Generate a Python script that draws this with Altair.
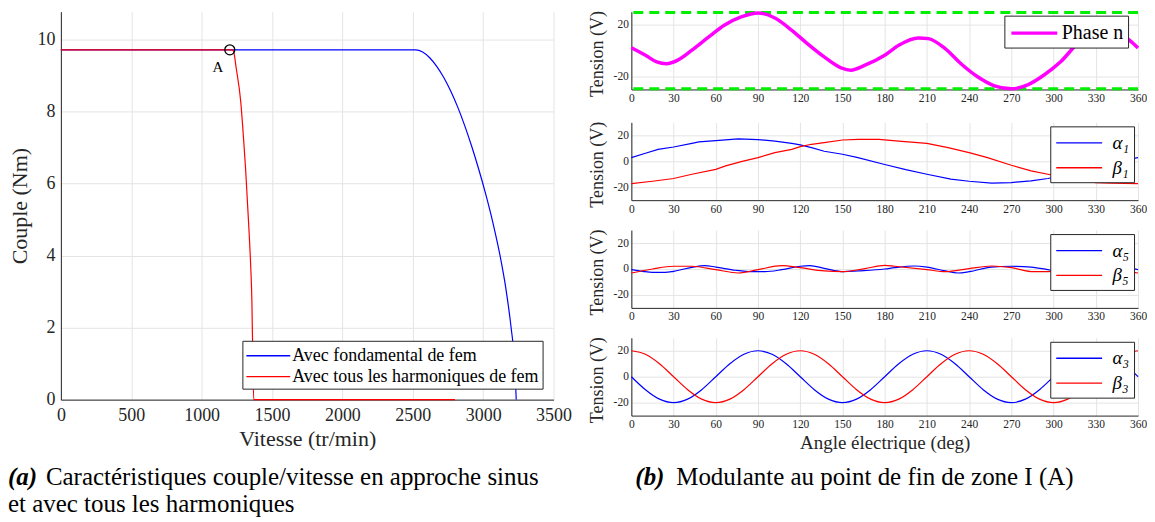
import altair as alt
import pandas as pd

FONT = "Liberation Serif"
AXC = "#262626"
GRID = "#e4e4e4"
LINE_SYMBOL = "M-2,0L2,0"

# ---------------- (a) torque / speed ----------------
series_a = ["Avec fondamental de fem", "Avec tous les harmoniques de fem"]
colors_a = ["#0000ff", "#ff0000"]
speed_fund = [0, 2520, 2570, 2620, 2670, 2720, 2770, 2820, 2870, 2920, 2970, 3020, 3070, 3120, 3160, 3200, 3220, 3235]
torque_fund = [9.72, 9.72, 9.66, 9.50, 9.26, 8.95, 8.57, 8.12, 7.60, 7.02, 6.38, 5.68, 4.90, 4.00, 3.12, 1.95, 1.20, 0.0]
speed_harm = [0, 1215, 1225, 1246, 1278, 1296, 1312, 1325, 1338, 1349, 1357, 1362, 1370, 2800]
torque_harm = [9.72, 9.72, 9.70, 9.20, 8.27, 7.35, 6.43, 5.51, 4.59, 3.67, 2.75, 1.53, 0.0, 0.0]
pointA_speed = [1200]
pointA_torque = [9.72]
pointA_label = ["A"]
speed_ticks = [0, 500, 1000, 1500, 2000, 2500, 3000, 3500]
torque_ticks = [0, 2, 4, 6, 8, 10]
caption_a_tag = ["(a)"]
caption_a_line1 = ["Caractéristiques couple/vitesse en approche sinus"]
caption_a_line2 = ["et avec tous les harmoniques"]

# ---------------- (b) modulating waveforms ----------------
angle_ticks = [0, 30, 60, 90, 120, 150, 180, 210, 240, 270, 300, 330, 360]
tension_ticks = [-20, 0, 20]
green_limits = [29.4, -29.4]

name_n = ["Phase n"]
ang_n = [0, 10, 18, 25, 33, 43, 55, 66, 78, 90, 102, 114, 125, 137, 149, 156, 166, 180,
         190, 204, 211, 223, 234, 246, 258, 270, 282, 293, 305, 317, 325, 333, 340, 346, 351, 356, 360]
v_n = [2.2, -3.6, -8.8, -10.2, -7.4, 0.3, 10.5, 19.5, 25.9, 29.0, 25.1, 15.6, 5.4, -4.9, -13.3, -15.1, -11.3, -3.6,
       4.1, 9.7, 9.2, 1.5, -10.0, -20.2, -27.2, -29.5, -26.2, -19.0, -8.7, 5.4, 11.5, 14.5, 15.0, 13.5, 10.5, 6.0, 2.0]

names_1 = ["α₁", "β₁"]
ang_a1 = [0, 10, 19, 30, 43, 48, 60, 76, 90, 102, 114, 120, 128, 137, 150, 161, 180, 195, 210, 227, 240, 256,
          270, 284, 296, 315, 330, 345, 352, 360]
v_a1 = [2.8, 6.2, 9.2, 11.0, 13.8, 14.9, 15.9, 17.2, 16.7, 15.6, 13.8, 12.6, 10.5, 7.7, 5.4, 2.8, -2.5, -6.5, -10.0,
        -13.8, -15.4, -16.9, -16.4, -15.1, -13.3, -9.4, -5.3, -0.9, 1.2, 2.8]
ang_b1 = [0, 15, 30, 43, 60, 67, 78, 90, 102, 114, 120, 128, 137, 150, 161, 176, 190, 210, 225, 240, 253, 270,
          284, 296, 305, 317, 330, 341, 360]
v_b1 = [-17.2, -15.4, -13.3, -10.0, -6.2, -3.6, -0.3, 2.8, 6.7, 9.2, 11.3, 13.1, 14.4, 16.4, 16.9, 16.9, 15.5, 13.8,
        10.5, 6.7, 2.8, -3.1, -7.4, -10.0, -12.0, -14.4, -16.4, -16.9, -17.2]

names_5 = ["α₅", "β₅"]
ang_a5 = [0, 8, 15, 24, 30, 43, 52, 60, 74, 86, 95, 107, 120, 127, 137, 151, 161, 180, 187, 201, 210, 223, 232,
          240, 256, 270, 284, 296, 305, 315, 325, 335, 345, 352, 360]
v_a5 = [-0.5, -1.8, -2.6, -2.6, -1.8, 1.3, 2.6, 1.5, -1.0, -2.1, -2.1, -0.5, 2.1, 2.6, 0.5, -2.1, -1.5, 0.0, 1.0,
        2.3, 1.5, -1.5, -3.1, -2.1, 1.5, 2.1, 1.5, -0.5, -2.3, -1.5, 0.5, 2.2, 2.4, 1.2, -0.5]
ang_b5 = [0, 15, 30, 43, 60, 76, 90, 107, 120, 137, 150, 166, 180, 187, 210, 223, 240, 256, 270, 286, 296, 305,
          315, 327, 340, 350, 360]
v_b5 = [-3.1, 0.0, 2.1, 2.1, -0.5, -3.1, -0.5, 2.6, 1.0, -1.5, -2.1, 0.3, 2.8, 2.1, -0.5, -2.1, 0.3, 2.3, 1.0,
        -2.1, -2.1, -0.5, 1.5, 2.5, 1.0, -1.5, -3.1]

names_3 = ["α₃", "β₃"]
ang_3 = [0, 10, 20, 30, 40, 50, 60, 70, 80, 90, 100, 110, 120, 130, 140, 150, 160, 170, 180, 190, 200, 210,
         220, 230, 240, 250, 260, 270, 280, 290, 300, 310, 320, 330, 340, 350, 360]
v_a3 = [0, -10, -17.3, -20, -17.3, -10, 0, 10, 17.3, 20, 17.3, 10, 0, -10, -17.3, -20, -17.3, -10, 0, 10, 17.3,
        20, 17.3, 10, 0, -10, -17.3, -20, -17.3, -10, 0, 10, 17.3, 20, 17.3, 10, 0]
v_b3 = [20, 17.3, 10, 0, -10, -17.3, -20, -17.3, -10, 0, 10, 17.3, 20, 17.3, 10, 0, -10, -17.3, -20, -17.3, -10,
        0, 10, 17.3, 20, 17.3, 10, 0, -10, -17.3, -20, -17.3, -10, 0, 10, 17.3, 20]

caption_b_tag = ["(b)"]
caption_b_text = ["Modulante au point de fin de zone I (A)"]

# ---------------- left chart ----------------
df_a = pd.concat([
    pd.DataFrame({"v": speed_fund, "c": torque_fund, "s": series_a[0]}),
    pd.DataFrame({"v": speed_harm, "c": torque_harm, "s": series_a[1]}),
])
df_A = pd.DataFrame({"v": pointA_speed, "c": pointA_torque, "t": pointA_label})

xa = alt.X("v:Q", scale=alt.Scale(domain=[0, 3500], nice=False, zero=False),
           axis=alt.Axis(values=speed_ticks, title="Vitesse (tr/min)", format="d", labelFontSize=18,
                         labelPadding=7, titleFontSize=22, titlePadding=4, labelFlush=False))
ya = alt.Y("c:Q", scale=alt.Scale(domain=[0, 10.78], nice=False),
           axis=alt.Axis(values=torque_ticks, title="Couple (Nm)", format="d", labelFontSize=18,
                         labelPadding=6, titleFontSize=22, titlePadding=5))

lines_a = alt.Chart(df_a).mark_line(strokeWidth=1.2, interpolate="monotone").encode(
    x=xa, y=ya,
    color=alt.Color("s:N", scale=alt.Scale(domain=series_a, range=colors_a), sort=series_a,
                    legend=alt.Legend(title=None, orient="bottom-right", offset=11, strokeColor=AXC,
                                      fillColor="white", padding=3, labelFontSize=18, labelFont=FONT,
                                      labelColor="black", symbolType=LINE_SYMBOL, symbolSize=484,
                                      symbolOffset=11, symbolStrokeWidth=1.3, labelLimit=600,
                                      rowPadding=0, labelOffset=12)),
)
marker_A = alt.Chart(df_A).mark_point(shape="circle", size=100, filled=False, color="black",
                                      strokeWidth=1.3, opacity=1).encode(x="v:Q", y="c:Q")
label_A = alt.Chart(df_A).mark_text(dx=-12, dy=17, fontSize=15, font=FONT, color="black").encode(
    x="v:Q", y="c:Q", text="t:N")


def caption(vals, x, y, bold=False, size=25):
    kw = dict(fontStyle="italic", fontWeight="bold") if bold else {}
    return alt.Chart(pd.DataFrame({"t": vals})).mark_text(
        align="left", baseline="middle", font=FONT, fontSize=size, color="black", **kw
    ).encode(x=alt.value(x), y=alt.value(y), text="t:N")


left = alt.layer(
    lines_a, marker_A, label_A,
    caption(caption_a_tag, -53, 467, bold=True),
    caption(caption_a_line1, -15, 467),
    caption(caption_a_line2, -53, 494),
).properties(width=494, height=389)

# ---------------- right panels ----------------
PW, PH = 508, 78


def panel(frames, names, colors, legend_x, title, stroke_w=1.2, sym_w=1.3, interp="linear", extra=None,
          label_size=19, label_style="italic", label_offset=21):
    df = pd.concat(frames)
    x = alt.X("a:Q", scale=alt.Scale(domain=[0, 360], nice=False, zero=False),
              axis=alt.Axis(values=angle_ticks, title=title, labelFontSize=11.5, labelPadding=3,
                            titleFontSize=19, titlePadding=3, labelFlush=False))
    y = alt.Y("u:Q", scale=alt.Scale(domain=[-30, 30], nice=False),
              axis=alt.Axis(values=tension_ticks, title="Tension (V)", labelFontSize=11.5, labelPadding=3,
                            titleFontSize=18, titlePadding=7, titleY=PH / 2 + 3,
                            labelExpr="'' + datum.value"))
    lines = alt.Chart(df).mark_line(strokeWidth=stroke_w, interpolate=interp).encode(
        x=x, y=y,
        color=alt.Color("s:N", scale=alt.Scale(domain=names, range=colors), sort=names,
                        legend=alt.Legend(title=None, orient="none", legendX=legend_x, legendY=4,
                                          strokeColor=AXC, fillColor="white", padding=4,
                                          labelFontSize=label_size, labelFont=FONT, labelColor="black",
                                          labelFontStyle=label_style,
                                          symbolType=LINE_SYMBOL, symbolSize=529, symbolOffset=12.5,
                                          symbolStrokeWidth=sym_w, labelLimit=400, rowPadding=2,
                                          labelOffset=label_offset)),
    )
    layers = ([extra] if extra is not None else []) + [lines]
    return layers


green = alt.Chart(pd.DataFrame({"u": green_limits})).mark_rule(
    color="#00ee00", strokeWidth=3, strokeDash=[10, 6]).encode(y=alt.Y("u:Q"))

l1 = panel([pd.DataFrame({"a": ang_n, "u": v_n, "s": name_n[0]})], name_n, ["#ff00ff"], 374, None,
           stroke_w=3.5, sym_w=3.2, interp="monotone", extra=green, label_size=20, label_style="normal",
           label_offset=14)
p1 = alt.layer(*l1).properties(width=PW, height=PH)

l2 = panel([pd.DataFrame({"a": ang_a1, "u": v_a1, "s": names_1[0]}),
            pd.DataFrame({"a": ang_b1, "u": v_b1, "s": names_1[1]})], names_1, ["#0000ff", "#ff0000"],
           420, None)
p2 = alt.layer(*l2).properties(width=PW, height=PH)

l3 = panel([pd.DataFrame({"a": ang_a5, "u": v_a5, "s": names_5[0]}),
            pd.DataFrame({"a": ang_b5, "u": v_b5, "s": names_5[1]})], names_5, ["#0000ff", "#ff0000"],
           420, None, interp="monotone")
p3 = alt.layer(*l3).properties(width=PW, height=PH)

l4 = panel([pd.DataFrame({"a": ang_3, "u": v_a3, "s": names_3[0]}),
            pd.DataFrame({"a": ang_3, "u": v_b3, "s": names_3[1]})], names_3, ["#0000ff", "#ff0000"],
           420, "Angle électrique (deg)", interp="monotone")
p4 = alt.layer(*l4,
               caption(caption_b_tag, 4, 140, bold=True),
               caption(caption_b_text, 45, 140)).properties(width=PW, height=PH)

lower = alt.vconcat(p2, p3, p4, spacing=13).resolve_scale(color="independent").resolve_legend(
    color="independent")
right = alt.vconcat(p1, lower, spacing=16).resolve_scale(color="independent").resolve_legend(
    color="independent")

chart = alt.hconcat(left, right, spacing=16).resolve_scale(color="independent").resolve_legend(
    color="independent").properties(padding={"top": -3, "left": 0, "right": 0, "bottom": 0})

chart = chart.configure_view(stroke=None).configure_axis(
    labelFont=FONT, titleFont=FONT, titleFontWeight="normal", gridColor=GRID, gridWidth=1,
    domainColor=AXC, domainWidth=1, labelColor=AXC, titleColor=AXC, ticks=False, grid=True,
).configure_text(font=FONT)

chart.save("out.html", embed_options={"renderer": "svg", "actions": False})
